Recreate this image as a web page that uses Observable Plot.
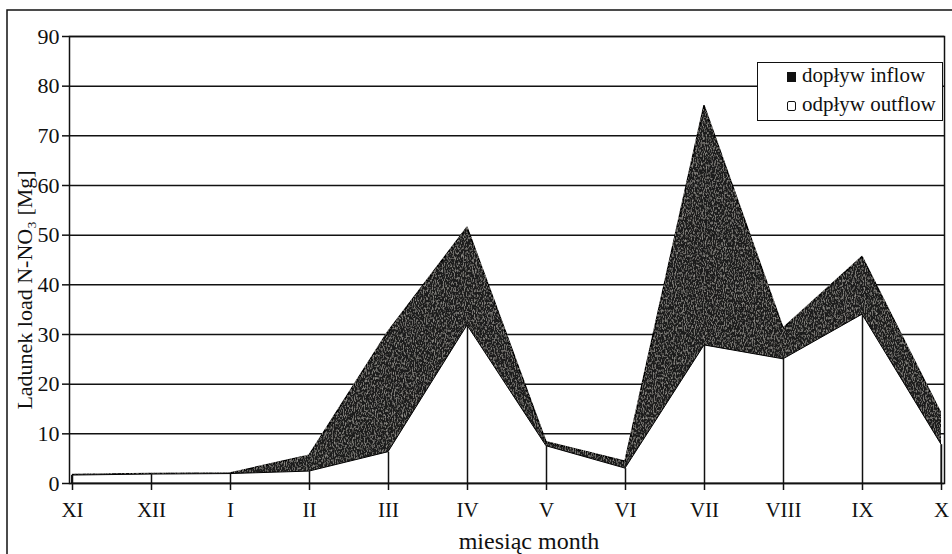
<!DOCTYPE html>
<html>
<head>
<meta charset="utf-8">
<script src="https://cdn.jsdelivr.net/npm/d3@7"></script>
<script src="https://cdn.jsdelivr.net/npm/@observablehq/plot@0.6"></script>
<style>
  html, body { margin: 0; padding: 0; background: #fff; }
  #wrap { position: relative; width: 952px; height: 554px; overflow: hidden; }
  #legend {
    position: absolute; left: 757px; top: 62px; width: 184px; height: 57px;
    border: 1.5px solid #111; background: #fff;
    font-family: "Liberation Serif", "Times New Roman", serif; font-size: 21px; color: #111;
  }
  .row { position: absolute; left: 29px; height: 24px; line-height: 24px; white-space: nowrap; }
  .sw { display: inline-block; width: 9px; height: 10px; margin-right: 6px; vertical-align: 0px; box-sizing: border-box; }
</style>
</head>
<body>
<div id="wrap"></div>
<script>
const months = ["XI","XII","I","II","III","IV","V","VI","VII","VIII","IX","X"];
const inflow = [1.7, 1.9, 2.0, 5.6, 30.5, 51.5, 8.3, 4.4, 76.0, 31.2, 45.6, 14.0];
const outflow = [1.6, 1.8, 1.9, 2.4, 6.3, 31.8, 7.5, 3.0, 27.8, 25.0, 34.0, 7.8];
const yTicks = [0,10,20,30,40,50,60,70,80,90];
const seriesNames = ["dopływ inflow", "odpływ outflow"];
const xTitle = "miesiąc month";
const yTitle = "Ladunek load N-NO₃ [Mg]";

const data = months.map((m, i) => ({month: m, inflow: inflow[i], outflow: outflow[i]}));
const font = '"Liberation Serif", "Times New Roman", serif';

const chart = Plot.plot({
  width: 952,
  height: 554,
  marginLeft: 69,
  marginRight: 8,
  marginTop: 36,
  marginBottom: 71,
  style: {fontFamily: font, fontSize: "21px", color: "#111", background: "transparent"},
  x: {type: "point", domain: months, padding: 0, label: null},
  y: {domain: [0, 90], ticks: yTicks, label: null},
  marks: [
    Plot.gridY(yTicks, {stroke: "#111", strokeOpacity: 1, strokeWidth: 1.5}),
    Plot.areaY(data, {x: "month", y1: 0, y2: "inflow", fill: "#1c1c1c", stroke: "#000", strokeWidth: 1.5}),
    Plot.areaY(data, {x: "month", y1: 0, y2: "outflow", fill: "#fff", stroke: "#000", strokeWidth: 1}),
    Plot.ruleX(data, {x: "month", y1: 0, y2: "outflow", stroke: "#111", strokeWidth: 1.5}),
    Plot.frame({stroke: "#111", strokeWidth: 1.5}),
    Plot.axisY(yTicks, {tickSize: 7, tickPadding: 3, strokeWidth: 1.5, fontSize: 22}),
    Plot.axisX(months, {tickSize: 7, tickPadding: 12, strokeWidth: 1.5, fontSize: 21}),
    Plot.text([xTitle], {frameAnchor: "bottom", dx: 22, dy: 58, lineAnchor: "middle", fontSize: 24}),
    Plot.text([yTitle], {frameAnchor: "left", rotate: -90, textAnchor: "middle", dx: -45, dy: 30, lineAnchor: "middle", fontSize: 22})
  ]
});

const svg = d3.select(chart);
const defs = svg.insert("defs", ":first-child");
const f = defs.append("filter").attr("id", "grain").attr("x", 0).attr("y", 0).attr("width", 1).attr("height", 1);
f.append("feTurbulence").attr("type", "fractalNoise").attr("baseFrequency", "0.9 0.4").attr("numOctaves", 2).attr("seed", 3).attr("result", "noise");
f.append("feColorMatrix").attr("in", "noise").attr("type", "matrix")
  .attr("values", "0 0 0 0 0.6  0 0 0 0 0.58  0 0 0 0 0.54  0 0 0 1.3 -0.62").attr("result", "speck");
f.append("feComposite").attr("in", "speck").attr("in2", "SourceGraphic").attr("operator", "in").attr("result", "s2");
const m = f.append("feMerge");
m.append("feMergeNode").attr("in", "SourceGraphic");
m.append("feMergeNode").attr("in", "s2");
svg.select('g[aria-label="area"]').attr("filter", "url(#grain)");

// outer border of the figure
svg.append("rect").attr("x", 7).attr("y", 10).attr("width", 960).attr("height", 560)
  .attr("fill", "none").attr("stroke", "#111").attr("stroke-width", 1.5);

const wrap = document.getElementById("wrap");
wrap.appendChild(chart);

const legend = document.createElement("div");
legend.id = "legend";
legend.innerHTML =
  `<div class="row" style="top:0px"><span class="sw" style="background:#111;border:1px solid #111"></span>${seriesNames[0]}</div>` +
  `<div class="row" style="top:29px"><span class="sw" style="background:#fff;border:1.5px solid #111;border-radius:2px"></span>${seriesNames[1]}</div>`;
wrap.appendChild(legend);
</script>
</body>
</html>
